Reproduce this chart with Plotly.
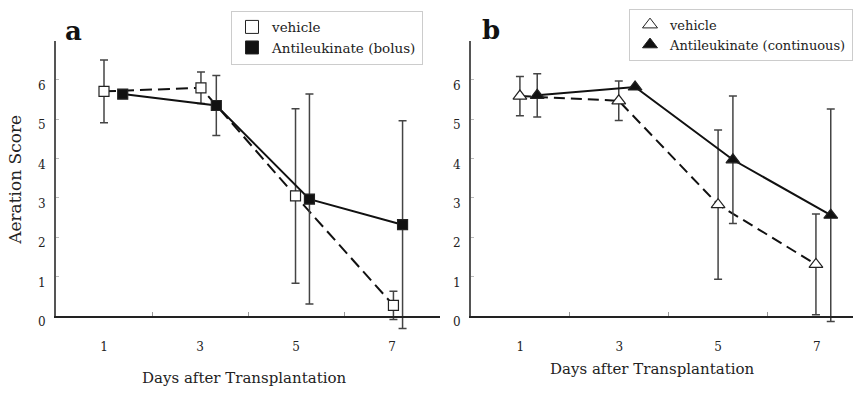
import plotly.graph_objects as go

# ---- data ----
tick_days = [1, 3, 5, 7]
tick_labels = ["1", "3", "5", "7"]
score_ticks = [0, 1, 2, 3, 4, 5, 6]

# panel a
veh_a_x = [1.0, 3.02, 4.99, 7.03]
veh_a_y = [5.71, 5.80, 3.05, 0.27]
veh_a_err = [0.80, 0.40, 2.22, 0.36]

bolus_x = [1.39, 3.34, 5.28, 7.22]
bolus_y = [5.64, 5.35, 2.97, 2.32]
bolus_err = [0.0, 0.76, 2.67, 2.64]

# panel b
veh_b_x = [0.99, 2.99, 5.0, 6.98]
veh_b_y = [5.59, 5.47, 2.83, 1.31]
veh_b_err = [0.50, 0.50, 1.90, 1.28]

cont_x = [1.34, 3.32, 5.30, 7.28]
cont_y = [5.61, 5.82, 3.97, 2.56]
cont_err = [0.55, 0.0, 1.62, 2.70]

FONT = "DejaVu Serif"
W, H = 853, 394

def px(sx):   # window x pixel -> paper fraction
    return sx / W

def py(sy):   # window y pixel -> paper fraction
    return 1 - sy / H

fig = go.Figure()

def add(x, y, err, xa, ya, symbol, fill, dash, size):
    fig.add_trace(go.Scatter(
        x=x, y=y, xaxis=xa, yaxis=ya, mode="lines+markers",
        line=dict(color="#111111", width=2, dash=dash),
        marker=dict(symbol=symbol, size=size, color=fill,
                    line=dict(color="#222222", width=1.2)),
        error_y=dict(type="data", array=err, visible=True,
                     color="#444444", thickness=1.5, width=4),
        cliponaxis=False, showlegend=False))

add(veh_a_x, veh_a_y, veh_a_err, "x", "y", "square", "white", "12px,6px", 10)
add(bolus_x, bolus_y, bolus_err, "x", "y", "square", "#111111", "solid", 10)
add(veh_b_x, veh_b_y, veh_b_err, "x2", "y2", "triangle-up", "white", "11px,6px", 12)
add(cont_x, cont_y, cont_err, "x2", "y2", "triangle-up", "#111111", "solid", 12)

# empty traces so the visual score axes form their own subplots
for xa, ya in (("x", "y3"), ("x2", "y4")):
    fig.add_trace(go.Scatter(x=[None], y=[None], xaxis=xa, yaxis=ya,
                             mode="markers", showlegend=False,
                             hoverinfo="skip"))

# legend-only entries (marker only)
def leg(name, symbol, fill, legend):
    fig.add_trace(go.Scatter(
        x=[None], y=[None], mode="markers", name=name, legend=legend,
        marker=dict(symbol=symbol, size=13, color=fill,
                    line=dict(color="#222222", width=1)),
        showlegend=True))

leg("vehicle", "square", "white", "legend")
leg("Antileukinate (bolus)", "square", "#111111", "legend")
leg("vehicle", "triangle-up", "white", "legend2")
leg("Antileukinate (continuous)", "triangle-up", "#111111", "legend2")

y_zero_px, y_top_px = 326.7, 42.0
unit = (y_zero_px - y_top_px) / 7.0
ylow = -0.55
y0 = py(y_zero_px)
y1 = py(y_top_px)
yd0 = py(y_zero_px - ylow * unit)

xcommon = dict(range=[0, 8], tickvals=tick_days, ticktext=tick_labels,
               ticks="", showline=True, linecolor="#222222", linewidth=2,
               showgrid=False, zeroline=False, ticklabelstandoff=19,
               tickfont=dict(family=FONT, size=12, color="#222"),
               minor=dict(tickvals=[2, 4, 6], ticks="inside", ticklen=4,
                          tickcolor="#999999", tickwidth=1, showgrid=False))
# visual score axes (line, ticks, labels)
yvis = dict(range=[0, 7], tickvals=score_ticks, domain=[y0, y1],
            ticks="inside", ticklen=3, tickcolor="#bbbbbb",
            showline=True, linecolor="#555555", linewidth=2,
            showgrid=False, zeroline=False, ticklabelstandoff=6,
            ticklabelshift=6,
            tickfont=dict(family=FONT, size=12, color="#222"))
# data axes (same scale, extended below zero so error bars are not cut)
ydata = dict(range=[ylow, 7], domain=[yd0, y1], visible=False,
             showgrid=False, zeroline=False)

fig.update_layout(
    # the page starts small (inside the default body margin) and is
    # resized to the full window once the body margin is removed
    width=W - 8, height=H - 24,
    margin=dict(l=0, r=0, t=0, b=0),
    paper_bgcolor="white", plot_bgcolor="rgba(0,0,0,0)",
    font=dict(family=FONT, color="#222"),
    xaxis=dict(domain=[px(56), px(440)], anchor="y3", **xcommon),
    xaxis2=dict(domain=[px(471), 1.0], anchor="y4",
                **{**xcommon, "range": [0, 7.73]}),
    yaxis=dict(anchor="x", **ydata),
    yaxis2=dict(anchor="x2", **ydata),
    yaxis3=dict(anchor="x", **yvis),
    yaxis4=dict(anchor="x2", **yvis),
    legend=dict(x=px(231), y=py(11), xanchor="left", yanchor="top",
                bordercolor="#cccccc", borderwidth=1, bgcolor="white",
                font=dict(family=FONT, size=13.5, color="#222"),
                tracegroupgap=0, itemsizing="trace"),
    legend2=dict(x=1.0, y=py(9), xanchor="right", yanchor="top",
                 bordercolor="#cccccc", borderwidth=1, bgcolor="white",
                 font=dict(family=FONT, size=13, color="#222"),
                 tracegroupgap=0, itemsizing="trace"),
    annotations=[
        dict(text="<b>a</b>", x=px(63), y=py(32), xref="paper", yref="paper",
             xanchor="left", yanchor="middle", showarrow=False,
             font=dict(family=FONT, size=26, color="#111")),
        dict(text="<b>b</b>", x=px(480), y=py(31), xref="paper", yref="paper",
             xanchor="left", yanchor="middle", showarrow=False,
             font=dict(family=FONT, size=26, color="#111")),
        dict(text="Aeration Score", x=px(15), y=py(186), textangle=-90,
             xref="paper", yref="paper", xanchor="center", yanchor="middle",
             showarrow=False, font=dict(family=FONT, size=17, color="#222")),
        dict(text="Days after Transplantation", x=px(244), y=py(391),
             xref="paper", yref="paper", xanchor="center", yanchor="middle",
             showarrow=False, font=dict(family=FONT, size=15, color="#222")),
        dict(text="Days after Transplantation", x=px(652), y=py(382),
             xref="paper", yref="paper", xanchor="center", yanchor="middle",
             showarrow=False, font=dict(family=FONT, size=15, color="#222")),
    ],
)

fig.write_html(
    "out.html", config={"displayModeBar": False},
    post_script=(
        "document.body.style.margin='0';"
        "document.documentElement.style.overflow='hidden';"
        "var g=document.getElementById('{plot_id}');"
        "g.style.position='fixed';g.style.top='0px';g.style.left='0px';"
        "g.style.width='%dpx';g.style.height='%dpx';"
        "Plotly.relayout(g,{width:%d,height:%d});" % (W, H, W, H)
    ))
